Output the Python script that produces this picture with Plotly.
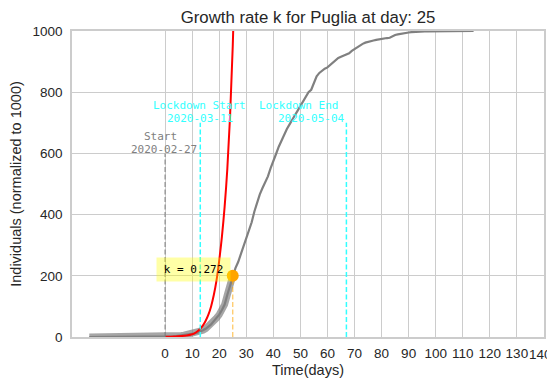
import plotly.graph_objects as go

# ---- data ----
region = "Puglia"
fit_day = 25
k_value = 0.272

early_zeros = [0] * 28  # days -28 .. -1
cases_norm = early_zeros + [
    1, 1, 2, 2, 3, 4, 5, 6, 8, 9,            # 0-9
    10, 12, 14, 17, 22, 27, 34, 41, 52, 62,  # 10-19
    73, 88, 106, 138, 170, 200, 225, 245, 270, 298,  # 20-29
    322, 348, 375, 410, 440, 466, 487, 505, 525, 552,  # 30-39
    578, 598, 622, 643, 662, 680, 695, 710, 724, 738,  # 40-49
    755, 768, 786, 800, 808, 830, 852, 863, 871, 877,  # 50-59
    881, 889, 899, 906, 912, 916, 919, 923, 927, 935,  # 60-69
    941, 947, 953, 958, 962, 965, 967, 969, 971, 973,  # 70-79
    974, 975, 977, 978, 983, 987, 989, 991, 993, 994,  # 80-89
    995, 996, 997, 998, 998, 998, 999, 999, 999, 1000,  # 90-99
    1000, 1000, 1000, 1000, 1000, 1000, 1000, 1000, 1000, 1000,  # 100-109
    1000, 1000, 1000, 1000, 1000,  # 110-114
]
days = list(range(-28, -28 + len(cases_norm)))

model_days = [0, 2, 4, 6, 8, 10, 11, 12, 13, 14, 15, 16, 17, 18, 19, 20, 21, 22, 23, 24, 25, 26]
model_vals = [0.5, 1, 2, 3, 5, 9, 13, 19, 27, 38, 53, 73, 100, 137, 185, 250, 328, 425, 550, 720, 950, 1250]

fit_point_value = 200
start_day = 0
lockdown_start_day = 13
lockdown_end_day = 67
start_line_top = 600
lockdown_line_top = 700

x_ticks = list(range(0, 141, 10))
y_ticks = list(range(0, 1001, 200))

fit_days = [d for d in days if d <= fit_day]
fit_vals = [v for d, v in zip(days, cases_norm) if d <= fit_day]

TXT = "#262626"
GRID = "#cccccc"
MONO = "DejaVu Sans Mono"
SANS = "Liberation Sans, Arial, sans-serif"

fig = go.Figure()

# thick band for fitted data
fig.add_trace(go.Scatter(x=fit_days, y=fit_vals, mode="lines",
                         line=dict(color="rgba(128,128,128,0.7)", width=7),
                         hoverinfo="skip", showlegend=False))
# main data curve
fig.add_trace(go.Scatter(x=days, y=cases_norm, mode="lines",
                         line=dict(color="#808080", width=2.2),
                         showlegend=False))
# exponential model
fig.add_trace(go.Scatter(x=model_days, y=model_vals, mode="lines",
                         line=dict(color="red", width=2, shape="spline"),
                         showlegend=False))

# vertical markers
def vline(x, top, color, width=1.3, dash="5px,2.5px"):
    fig.add_trace(go.Scatter(x=[x, x], y=[0, top], mode="lines",
                             line=dict(color=color, width=width, dash=dash),
                             hoverinfo="skip", showlegend=False))

vline(start_day, start_line_top, "rgba(128,128,128,0.8)")
vline(lockdown_start_day, lockdown_line_top, "#33ffff", width=1.5)
vline(lockdown_end_day, lockdown_line_top, "#33ffff", width=1.5)
vline(fit_day, fit_point_value, "rgba(255,165,0,0.6)")

# orange point
fig.add_trace(go.Scatter(x=[fit_day], y=[fit_point_value], mode="markers",
                         marker=dict(color="orange", size=12),
                         cliponaxis=False, showlegend=False))

def label(x, y, text, color, size=11):
    fig.add_annotation(x=x, y=y, xref="x", yref="y", text=text, showarrow=False,
                       xanchor="center", yanchor="middle",
                       font=dict(family=MONO, size=size, color=color))

label(-1.6, 656, "Start", "#808080")
label(-0.4, 614, "2020-02-27", "#808080")
label(12.6, 758, "Lockdown Start", "#33ffff")
label(12.9, 713, "2020-03-11", "#33ffff")
label(49.2, 758, "Lockdown End", "#33ffff")
label(54.1, 714, "2020-05-04", "#33ffff")

fig.add_annotation(x=10.6, y=219, xref="x", yref="y", text=f"k = {k_value}",
                   showarrow=False, xanchor="center", yanchor="middle",
                   font=dict(family=MONO, size=11, color="black"),
                   bgcolor="rgba(255,255,0,0.35)", width=71, height=21, borderpad=1)

# last x tick label drawn as annotation so it is not clipped at the page edge
last_tick = x_ticks[-1]
tick_text = [str(t) for t in x_ticks[:-1]] + [""]
fig.add_annotation(x=last_tick, y=0, xref="x", yref="y", text=str(last_tick),
                   showarrow=False, xanchor="center", yanchor="middle",
                   xshift=-3, yshift=-17.5,
                   font=dict(family=SANS, size=13.5, color=TXT))

# the page body has an 8px margin, so the figure is 8px smaller and its margins shifted
fig.update_layout(
    width=547, height=375,
    margin=dict(l=64, r=11, t=23, b=46, autoexpand=False),
    paper_bgcolor="white", plot_bgcolor="white",
    font=dict(family=SANS, color=TXT, size=13.5),
    title=dict(text=f"Growth rate k for {region} at day: {fit_day}",
               x=0.5, xref="paper", y=1 - 9 / 375, yref="container",
               xanchor="center", yanchor="middle",
               font=dict(family=SANS, size=16.8, color=TXT)),
    xaxis=dict(range=[-34.4, 140.02], tickmode="array", tickvals=x_ticks,
               ticktext=tick_text, automargin=False,
               showgrid=True, gridcolor=GRID, gridwidth=1.2, zeroline=False,
               showline=True, linecolor=GRID, linewidth=1.5, mirror=True,
               ticks="", ticklabelstandoff=3,
               title=dict(text="Time(days)", font=dict(size=14.5, color=TXT), standoff=5),
               tickfont=dict(size=13.5, color=TXT)),
    yaxis=dict(range=[0, 1000], tickmode="array", tickvals=y_ticks,
               ticktext=[str(t) for t in y_ticks], automargin=False,
               showgrid=True, gridcolor=GRID, gridwidth=1.2, zeroline=False,
               showline=True, linecolor=GRID, linewidth=1.5, mirror=True,
               ticks="", ticklabelstandoff=5,
               title=dict(text="Individuals (normalized to 1000)",
                          font=dict(size=14.5, color=TXT), standoff=11),
               tickfont=dict(size=13.5, color=TXT)),
)

fig.write_html("out.html")
